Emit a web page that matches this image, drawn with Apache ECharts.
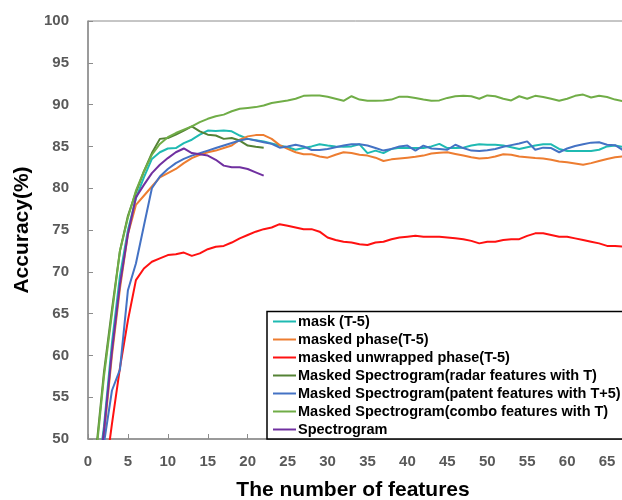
<!DOCTYPE html>
<html>
<head>
<meta charset="utf-8">
<script src="https://cdn.jsdelivr.net/npm/echarts@6/dist/echarts.min.js"></script>
<style>
html,body{margin:0;padding:0;background:#fff;}
#chart{width:622px;height:500px;}
</style>
</head>
<body>
<div id="chart"></div>
<script>
// ---- data ----
const features = [1,2,3,4,5,6,7,8,9,10,11,12,13,14,15,16,17,18,19,20,21,22,23,24,25,26,27,28,29,30,31,32,33,34,35,36,37,38,39,40,41,42,43,44,45,46,47,48,49,50,51,52,53,54,55,56,57,58,59,60,61,62,63,64,65,66,67];

const maskT5 = [44,51.5,61.5,69.5,75,78.8,81.3,83.5,84.3,84.75,84.8,85.4,85.8,86.4,86.9,86.85,86.9,86.8,86.3,85.9,85.75,85.6,85.35,85.1,84.9,84.6,84.8,85.0,85.25,85.1,85.0,84.95,85.0,85.25,84.2,84.5,84.2,84.7,84.85,84.8,84.8,84.8,85.0,85.3,84.8,84.8,84.85,85.1,85.25,85.2,85.2,85.1,84.9,84.7,84.9,85.1,85.25,85.25,84.7,84.45,84.45,84.45,84.45,84.6,85.0,85.1,84.95];

const maskedPhaseT5 = [42,50.5,60,68,74.5,78.0,79.1,80.2,81.3,81.8,82.3,83.0,83.6,84.0,84.3,84.5,84.8,85.1,85.8,86.2,86.35,86.35,85.9,85.15,84.7,84.3,84.05,84.05,83.8,83.65,84.0,84.3,84.2,84.0,83.9,83.65,83.25,83.45,83.55,83.65,83.75,83.9,84.15,84.25,84.3,84.1,83.9,83.7,83.55,83.6,83.8,84.05,84.0,83.8,83.7,83.6,83.55,83.4,83.2,83.1,82.95,82.8,83.0,83.25,83.5,83.7,83.8];

const maskedUnwrappedT5 = [38,44.7,51.8,58.5,64.2,69.0,70.4,71.2,71.6,72.0,72.1,72.3,71.9,72.2,72.7,73.0,73.1,73.5,74.0,74.4,74.8,75.1,75.3,75.7,75.5,75.3,75.1,75.1,74.8,74.1,73.8,73.6,73.5,73.3,73.2,73.5,73.6,73.9,74.1,74.2,74.3,74.2,74.2,74.2,74.1,74.0,73.9,73.7,73.4,73.6,73.6,73.8,73.9,73.9,74.3,74.6,74.6,74.4,74.2,74.2,74.0,73.8,73.6,73.4,73.1,73.1,73.0];

const radarT = [48.5,58,65.5,72.5,76.7,79.5,82,84.2,85.9,86.0,86.4,86.9,87.4,86.8,86.4,86.3,85.9,86.0,85.7,85.1,84.95,84.85];

const patentT5 = [40,49.5,55.8,58.3,67.8,71,75.5,80.0,81.4,82.3,83.0,83.5,83.9,84.2,84.5,84.8,85.1,85.4,85.7,85.9,85.7,85.5,85.3,84.85,85.0,85.2,85.0,84.57,84.57,84.7,84.9,85.1,85.25,85.25,85.1,84.8,84.5,84.7,85.0,85.1,84.5,85.1,84.75,84.7,84.6,85.2,84.8,84.5,84.45,84.55,84.7,84.95,85.15,85.35,85.6,84.6,84.85,84.8,84.3,84.75,85.05,85.25,85.45,85.5,85.2,85.15,84.55];

const comboT = [48,57.5,65,72.5,76.5,79.7,82.0,84.0,85.3,86.1,86.6,87.0,87.4,87.9,88.3,88.6,88.8,89.2,89.5,89.6,89.7,89.9,90.2,90.35,90.5,90.7,91.05,91.1,91.1,90.95,90.7,90.45,91.0,90.6,90.45,90.45,90.5,90.6,90.95,90.95,90.8,90.6,90.45,90.5,90.8,91.0,91.05,91.0,90.7,91.1,91.0,90.7,90.5,91.0,90.7,91.05,90.9,90.7,90.45,90.7,91.05,91.2,90.85,91.05,90.9,90.6,90.4];

const spectrogram = [43,51,60.5,68.5,74.5,78.9,80.4,81.8,82.8,83.6,84.3,84.75,84.2,84.05,83.9,83.4,82.7,82.5,82.5,82.3,81.9,81.5];

const seriesNames = [
  'mask (T-5)',
  'masked phase(T-5)',
  'masked unwrapped phase(T-5)',
  'Masked Spectrogram(radar features with T)',
  'Masked Spectrogram(patent features with T+5)',
  'Masked Spectrogram(combo features with T)',
  'Spectrogram'
];
const seriesValues = [maskT5, maskedPhaseT5, maskedUnwrappedT5, radarT, patentT5, comboT, spectrogram];
const seriesColors = ['#1fbab2', '#ed7d31', '#ff1111', '#548235', '#4472c4', '#70ad47', '#7030a0'];

const xTicks = { min: 0, max: 70, interval: 5 };
const yTicks = { min: 50, max: 100, interval: 5 };

const FONT = '"Liberation Sans", Arial, sans-serif';

const chart = echarts.init(document.getElementById('chart'), null, { renderer: 'canvas' });

const series = seriesNames.map((name, k) => ({
  name: name,
  type: 'line',
  data: seriesValues[k].map((v, i) => [features[i], v]),
  symbol: 'none',
  showSymbol: false,
  smooth: false,
  clip: true,
  color: seriesColors[k],
  lineStyle: { width: 2, color: seriesColors[k] },
  emphasis: { disabled: true },
  animation: false
}));

chart.setOption({
  animation: false,
  backgroundColor: '#fff',
  grid: {
    left: 88, top: 21, width: 559, height: 418,
    containLabel: false,
    outerBoundsMode: 'none',
    show: true, borderColor: '#8c8c8c', borderWidth: 1, backgroundColor: 'transparent'
  },
  xAxis: {
    type: 'value',
    min: xTicks.min, max: xTicks.max, interval: xTicks.interval,
    axisLine: { show: true, lineStyle: { color: '#8c8c8c', width: 1.5 } },
    axisTick: { show: true, inside: true, length: 5, lineStyle: { color: '#8c8c8c' } },
    axisLabel: { margin: 15, color: '#595959', fontWeight: 'bold', fontSize: 15, fontFamily: FONT },
    splitLine: { show: false }
  },
  yAxis: {
    type: 'value',
    min: yTicks.min, max: yTicks.max, interval: yTicks.interval,
    axisLine: { show: true, lineStyle: { color: '#8c8c8c', width: 1.5 } },
    axisTick: { show: true, inside: true, length: 5, lineStyle: { color: '#8c8c8c' } },
    axisLabel: { margin: 19, color: '#595959', fontWeight: 'bold', fontSize: 15, fontFamily: FONT },
    splitLine: { show: false }
  },
  legend: {
    orient: 'vertical',
    left: 267, top: 312,
    padding: [2, 5, 2, 5],
    itemGap: 3,
    itemWidth: 23,
    itemHeight: 14,
    data: seriesNames,
    itemStyle: { opacity: 0 },
    lineStyle: { width: 2 },
    textStyle: { color: '#000', fontWeight: 'bold', fontSize: 14.5, lineHeight: 14, fontFamily: FONT, padding: [0, 0, 0, -3] },
    selectedMode: false
  },
  graphic: [
    {
      type: 'rect', z: 3,
      shape: { x: 267, y: 311.5, width: 400, height: 127.5 },
      style: { fill: '#fff', stroke: '#000', lineWidth: 1.5 }
    },
    {
      type: 'text', z: 5,
      x: 353, y: 490,
      style: { text: 'The number of features', fill: '#000', font: 'bold 21px ' + FONT, align: 'center', verticalAlign: 'middle' }
    },
    {
      type: 'text', z: 5,
      x: 22, y: 230, rotation: Math.PI / 2,
      style: { text: 'Accuracy(%)', fill: '#000', font: 'bold 21px ' + FONT, align: 'center', verticalAlign: 'middle' }
    }
  ],
  series: series
});
</script>
</body>
</html>
